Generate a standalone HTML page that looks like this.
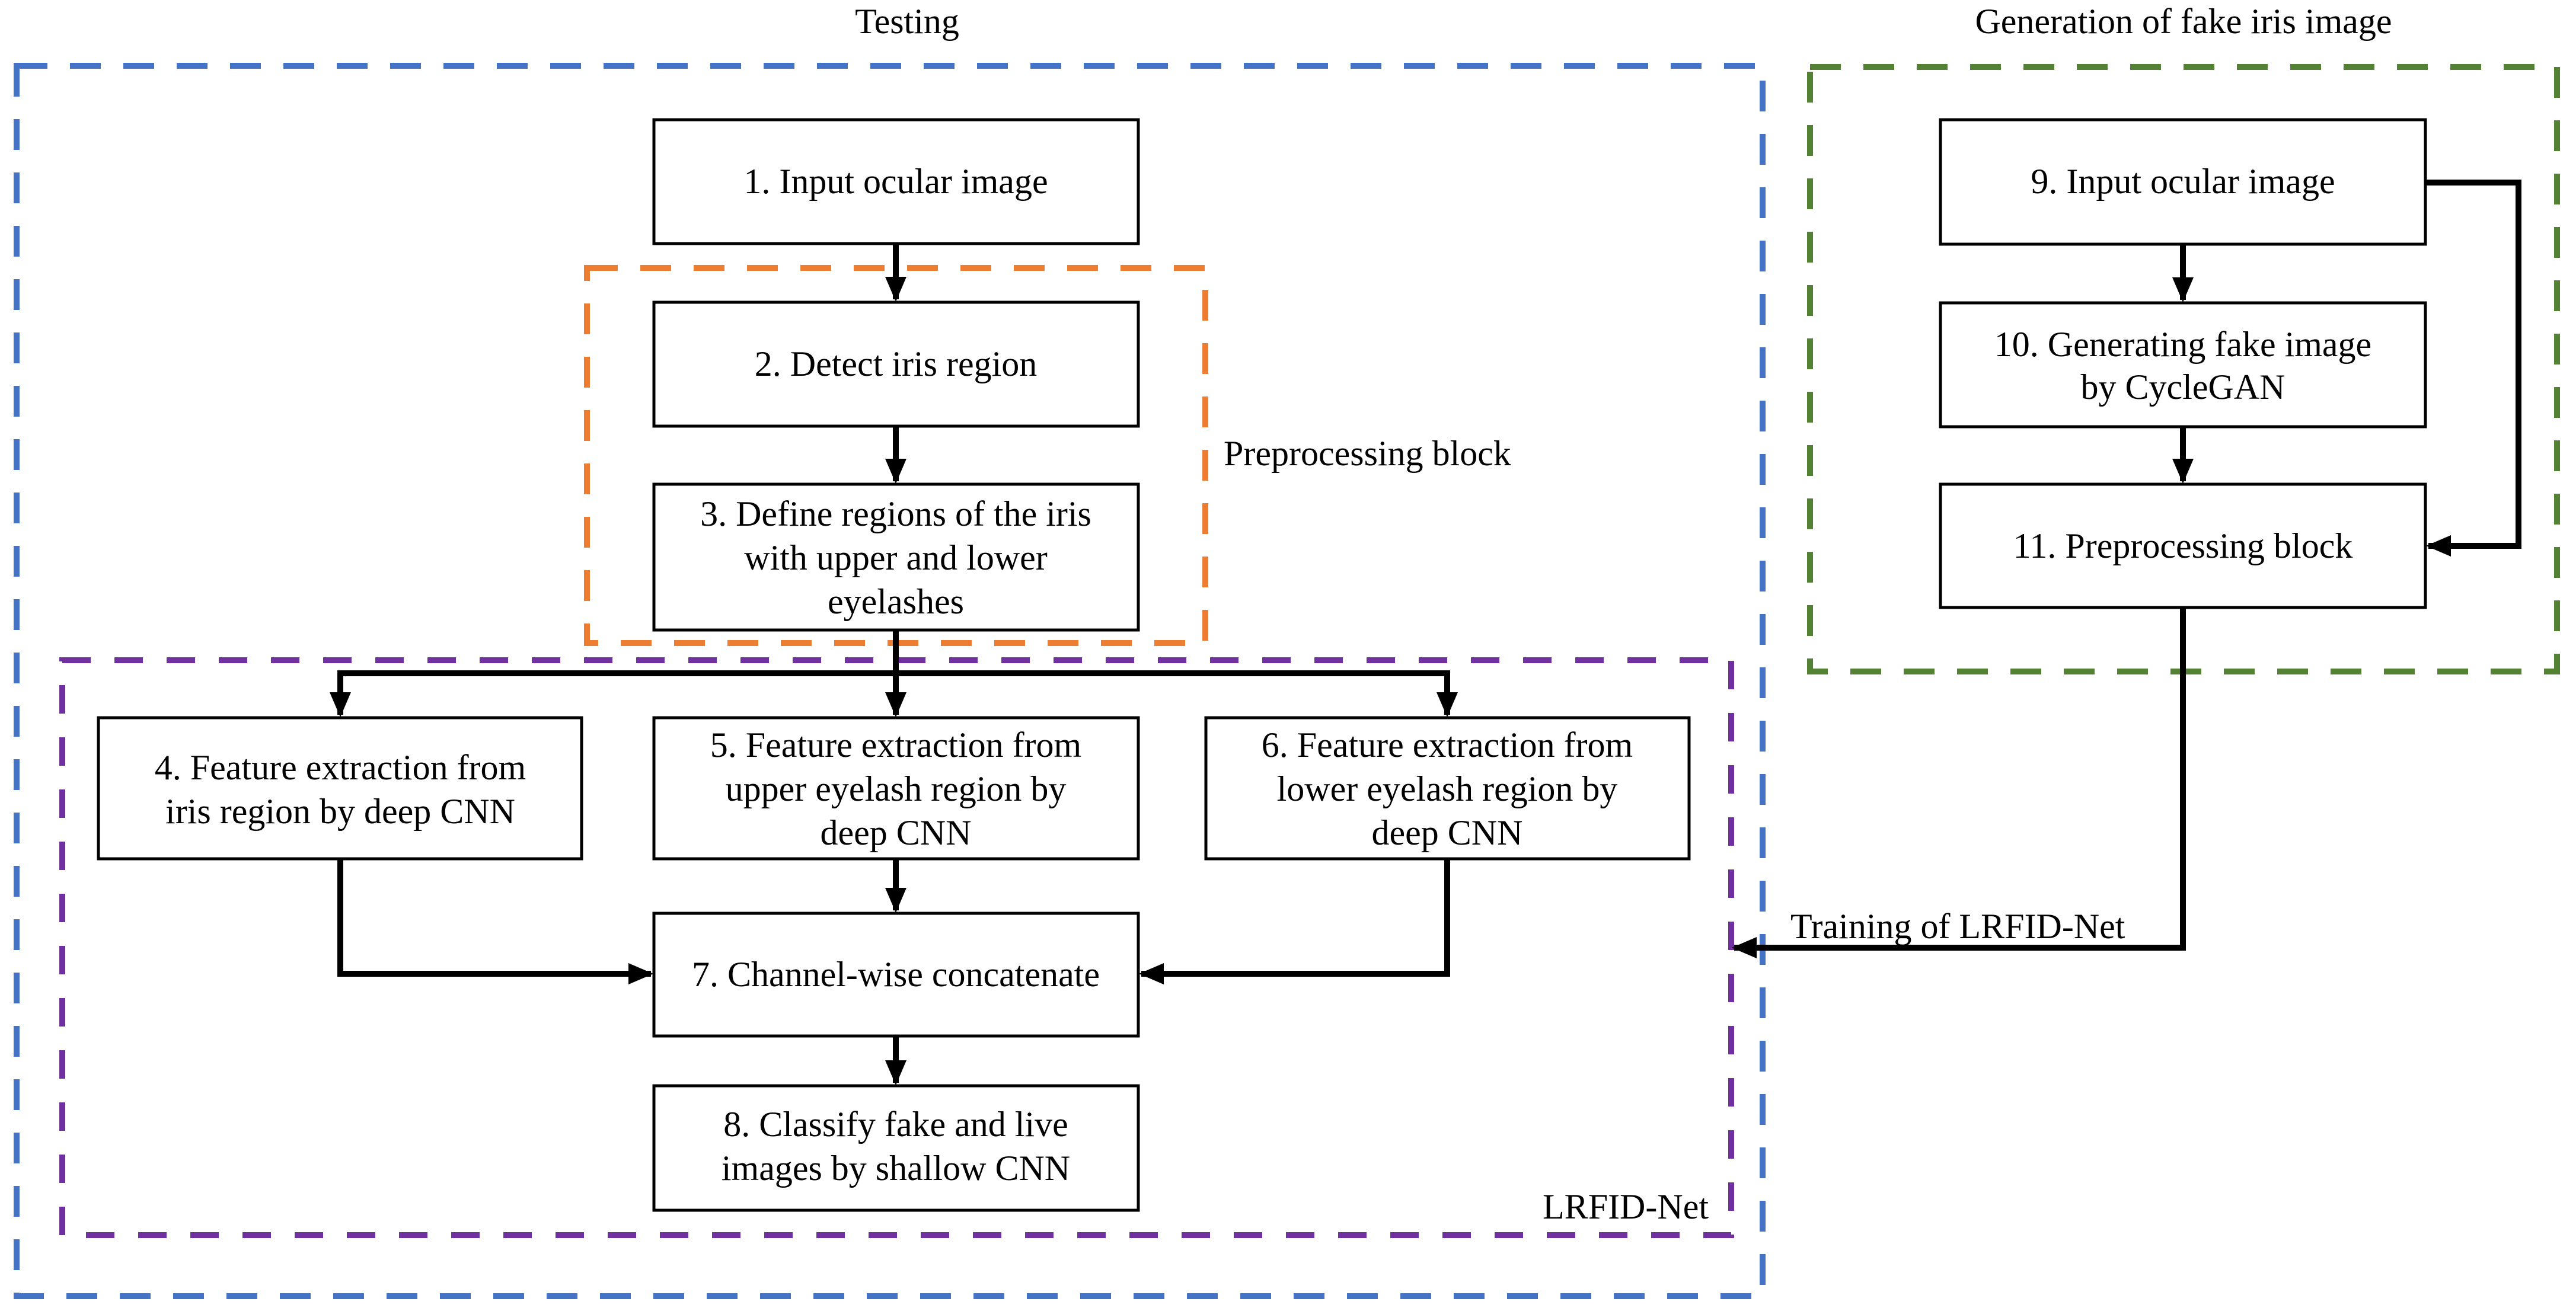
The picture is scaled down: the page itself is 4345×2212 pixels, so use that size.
<!DOCTYPE html>
<html><head><meta charset="utf-8"><style>
html,body{margin:0;padding:0;background:#fff;}
svg{display:block;}
svg text{font-family:"Liberation Serif","DejaVu Serif","Times New Roman",serif;font-size:60px;fill:#000;}
</style></head><body>
<svg width="4345" height="2212" viewBox="0 0 4345 2212" xmlns="http://www.w3.org/2000/svg" font-family="'Liberation Serif', 'DejaVu Serif', serif">
<defs>
<marker id="ah" markerWidth="5" markerHeight="5" refX="3.8" refY="2.2" orient="auto" markerUnits="strokeWidth">
<path d="M0,0.4 L4.2,2.2 L0,4 z" fill="#000"/>
</marker>
</defs>
<rect x="28" y="111" width="2945" height="2076" fill="none" stroke="#4472C4" stroke-width="10" stroke-dasharray="52 38"/>
<rect x="3053" y="113" width="1260" height="1020" fill="none" stroke="#548235" stroke-width="10" stroke-dasharray="52 38"/>
<rect x="990" y="452" width="1043" height="633" fill="none" stroke="#ED7D31" stroke-width="10" stroke-dasharray="52 38"/>
<rect x="105" y="1114" width="2815" height="970" fill="none" stroke="#7030A0" stroke-width="10" stroke-dasharray="48 40"/>

<text x="1530" y="56" text-anchor="middle">Testing</text>
<text x="3683" y="56" text-anchor="middle">Generation of fake iris image</text>
<text x="2064" y="785">Preprocessing block</text>
<text x="2882" y="2056" text-anchor="end">LRFID-Net</text>
<text x="3020" y="1583">Training of LRFID-Net</text>

<g fill="#fff" stroke="#000" stroke-width="5">
<rect x="1103" y="202" width="817" height="209"/>
<rect x="1103" y="510" width="817" height="209"/>
<rect x="1103" y="817" width="817" height="246"/>
<rect x="166" y="1211" width="815" height="238"/>
<rect x="1103" y="1211" width="817" height="238"/>
<rect x="2034" y="1211" width="815" height="238"/>
<rect x="1103" y="1541" width="817" height="207"/>
<rect x="1103" y="1832" width="817" height="210"/>
<rect x="3273" y="202" width="818" height="210"/>
<rect x="3273" y="511" width="818" height="209"/>
<rect x="3273" y="817" width="818" height="208"/>
</g>

<g text-anchor="middle">
<text x="1511" y="326">1. Input ocular image</text>
<text x="1511" y="634">2. Detect iris region</text>
<text x="1511" y="887">3. Define regions of the iris</text>
<text x="1511" y="961">with upper and lower</text>
<text x="1511" y="1035">eyelashes</text>
<text x="574" y="1315">4. Feature extraction from</text>
<text x="574" y="1389">iris region by deep CNN</text>
<text x="1511" y="1277">5. Feature extraction from</text>
<text x="1511" y="1351">upper eyelash region by</text>
<text x="1511" y="1425">deep CNN</text>
<text x="2441" y="1277">6. Feature extraction from</text>
<text x="2441" y="1351">lower eyelash region by</text>
<text x="2441" y="1425">deep CNN</text>
<text x="1511" y="1664">7. Channel-wise concatenate</text>
<text x="1511" y="1917">8. Classify fake and live</text>
<text x="1511" y="1991">images by shallow CNN</text>
<text x="3682" y="326">9. Input ocular image</text>
<text x="3682" y="601">10. Generating fake image</text>
<text x="3682" y="673">by CycleGAN</text>
<text x="3682" y="941">11. Preprocessing block</text>
</g>

<g fill="none" stroke="#000" stroke-width="10" marker-end="url(#ah)">
<path d="M1511 411 V505"/>
<path d="M1511 719 V812"/>
<path d="M1511 1063 V1206"/>
<path d="M1511 1136 H574 V1206"/>
<path d="M1511 1136 H2441 V1206"/>
<path d="M1511 1449 V1536"/>
<path d="M574 1449 V1643 H1098"/>
<path d="M2441 1449 V1643 H1925"/>
<path d="M1511 1748 V1827"/>
<path d="M3682 412 V506"/>
<path d="M3682 720 V812"/>
<path d="M4091 308 H4248 V921 H4096"/>
<path d="M3682 1025 V1599 H2925"/>
</g>
</svg>
</body></html>
